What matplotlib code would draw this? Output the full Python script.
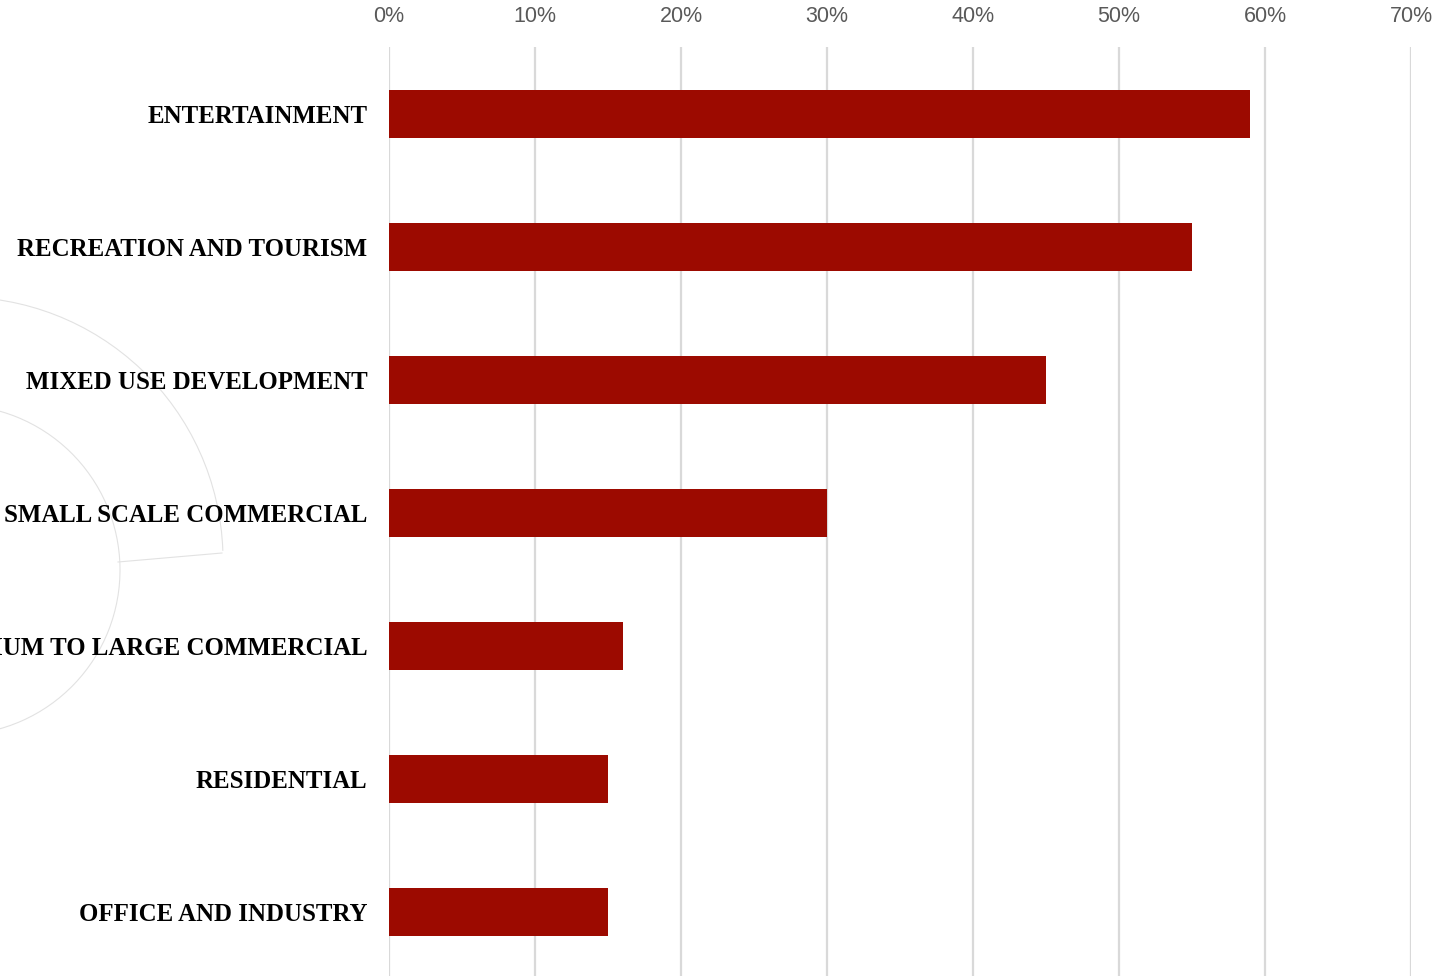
import matplotlib
matplotlib.use("Agg")
import matplotlib.pyplot as plt
from matplotlib.patches import Arc
from matplotlib.ticker import FuncFormatter

categories = ["ENTERTAINMENT", "RECREATION AND TOURISM", "MIXED USE DEVELOPMENT",
              "SMALL SCALE COMMERCIAL", "MEDIUM TO LARGE COMMERCIAL", "RESIDENTIAL",
              "OFFICE AND INDUSTRY"]
values = [59, 55, 45, 30, 16, 15, 15]
xticks = [0, 10, 20, 30, 40, 50, 60, 70]

fig = plt.figure(figsize=(14.46, 9.76), dpi=100)

# faint decorative background shape
deco = fig.add_axes([0, 0, 1, 1], zorder=0)
deco.set_xlim(0, 1446)
deco.set_ylim(976, 0)
deco.axis("off")
deco.add_patch(Arc((-40, 560), 526, 526, theta1=-180, theta2=-2, color="#e2e2e2", lw=0.8))
deco.add_patch(Arc((-45, 570), 330, 330, theta1=-180, theta2=178, color="#e2e2e2", lw=0.8))
deco.plot([222, 118], [553, 562], color="#e2e2e2", lw=0.8)

ax = fig.add_axes([389 / 1446, 1 - 978.5 / 976, (1411 - 389) / 1446, (978.5 - 47.5) / 976], zorder=1)
ax.patch.set_alpha(0)
y = list(range(len(categories)))
ax.barh(y, values, height=0.355, color="#9c0a00", zorder=3)
ax.set_ylim(len(categories) - 0.5, -0.5)
ax.set_xlim(0, 70)
ax.set_xticks(xticks)
ax.xaxis.set_major_formatter(FuncFormatter(lambda v, p: f"{int(v)}%"))
ax.xaxis.tick_top()
ax.tick_params(axis="x", length=0, pad=15, labelsize=15.5, labelcolor="#595959")
for lab in ax.get_xticklabels():
    lab.set_fontfamily("Liberation Sans")
ax.set_yticks(y)
ax.set_yticklabels(categories, fontfamily="Liberation Serif", fontweight="bold", fontsize=17.9, color="black")
ax.tick_params(axis="y", length=0, pad=15.5)
ax.grid(axis="x", color="#d9d9d9", lw=1.6, zorder=0)
for s in ax.spines.values():
    s.set_visible(False)

fig.savefig("out.png", dpi=100)
